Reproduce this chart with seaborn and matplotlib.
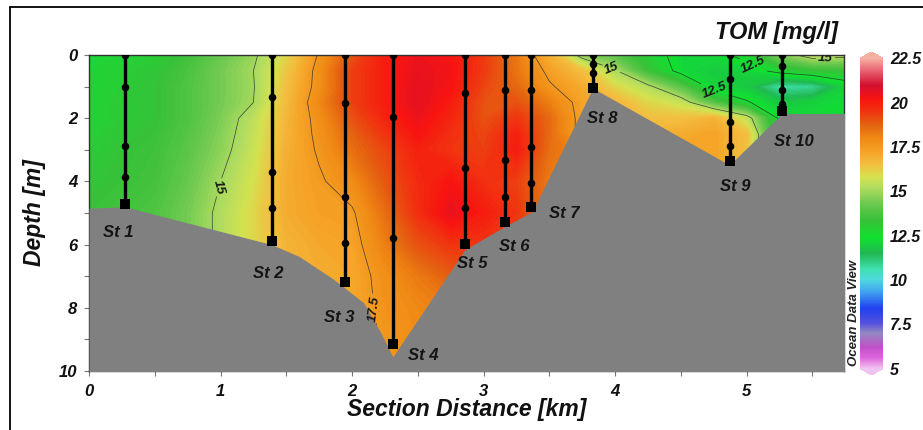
import numpy as np
import pandas as pd
import matplotlib
matplotlib.use("Agg")
import matplotlib.pyplot as plt
import seaborn as sns
from matplotlib.colors import LinearSegmentedColormap, Normalize
from matplotlib.cm import ScalarMappable
from matplotlib.lines import Line2D

# ---------------- data ----------------
station_names = ["St 1", "St 2", "St 3", "St 4", "St 5", "St 6", "St 7", "St 8", "St 9", "St 10"]
station_x = [0.27, 1.39, 1.95, 2.31, 2.86, 3.16, 3.36, 3.83, 4.87, 5.27]
sample_depths = [
    [0, 1.0, 2.88, 3.85, 4.7],
    [0, 1.34, 3.69, 4.85, 5.9],
    [0, 1.53, 4.48, 5.96, 7.19],
    [0, 1.95, 5.78, 9.15],
    [0, 1.21, 3.59, 4.85, 5.99],
    [0, 1.11, 3.32, 4.48, 5.3],
    [0, 1.11, 2.92, 4.04, 4.82],
    [0, 0.27, 0.56, 1.03],
    [0, 0.75, 2.13, 2.87, 3.37],
    [0, 0.35, 1.12, 1.55, 1.78],
]

# bottom topography
bathy_x = [0, 0.27, 1.39, 1.6, 1.86, 1.96, 2.09, 2.22, 2.31, 2.86, 3.16, 3.37, 3.83, 4.87, 5.27, 5.75]
bathy_depth = [4.85, 4.8, 6.0, 6.38, 7.1, 7.42, 7.85, 8.8, 9.55, 6.15, 5.43, 4.96, 1.05, 3.48, 1.85, 1.85]

# gridded TOM field [mg/l] read from the section
grid_x = [0, 0.25, 0.5, 0.75, 1.0, 1.25, 1.5, 1.75, 2.0, 2.25, 2.5, 2.75,
          3.0, 3.25, 3.5, 3.75, 4.0, 4.25, 4.5, 4.75, 5.0, 5.25, 5.5, 5.75]
grid_depth = [0, 0.5, 1, 1.5, 2, 2.5, 3, 4, 5, 6, 7, 8, 9, 10]
tom_0m = [12.7, 12.8, 13.0, 13.5, 14.2, 14.85, 16.0, 17.6, 19.0, 20.0, 20.4, 20.2,
          19.4, 18.3, 16.8, 14.6, 14.0, 12.9, 12.2, 12.2, 12.8, 14.5, 15.5, 15.3]
tom_05m = [12.8, 13.0, 13.2, 13.7, 14.4, 15.0, 16.3, 17.8, 19.3, 20.0, 20.5, 20.3,
           19.4, 18.4, 17.3, 16.5, 15.1, 13.4, 12.2, 11.9, 12.1, 12.8, 13.2, 13.3]
tom_1m = [12.8, 13.0, 13.3, 13.8, 14.4, 14.95, 16.5, 17.8, 19.3, 20.0, 20.6, 20.2,
          19.2, 18.6, 17.6, 17.0, 16.0, 15.2, 13.9, 12.1, 11.8, 10.6, 10.8, 12.0]
tom_15m = [12.8, 13.1, 13.3, 13.8, 14.4, 15.0, 16.6, 18.0, 19.3, 20.0, 20.6, 20.0,
           19.0, 19.0, 18.2, 17.2, 16.8, 16.0, 15.5, 13.8, 12.6, 11.8, 12.0, 12.3]
tom_2m = [12.8, 13.1, 13.3, 13.8, 14.5, 15.4, 16.7, 17.8, 19.0, 19.8, 20.4, 19.8,
          19.0, 19.5, 18.6, 17.2, 17.0, 16.5, 16.5, 16.8, 15.5, 12.3, 12.3, 12.3]
tom_25m = [12.9, 13.2, 13.4, 13.9, 14.6, 15.5, 16.8, 17.7, 18.7, 19.5, 20.2, 19.6,
           19.2, 19.9, 18.6, 17.2, 17.0, 16.8, 17.0, 17.2, 16.5, 12.3, 12.3, 12.3]
tom_3m = [13.0, 13.3, 13.5, 14.0, 14.7, 15.6, 16.9, 17.6, 18.5, 19.2, 19.9, 19.5,
          19.3, 20.0, 18.5, 18.0, 17.0, 17.0, 17.2, 17.2, 16.5, 12.3, 12.3, 12.3]
tom_4m = [13.2, 13.4, 13.6, 14.2, 15.0, 15.8, 17.0, 17.4, 17.9, 18.9, 19.7, 20.2,
          19.6, 19.3, 18.3, 18.0, 17.0, 17.0, 17.2, 17.2, 16.5, 12.3, 12.3, 12.3]
tom_5m = [13.4, 13.6, 13.8, 14.4, 15.2, 16.0, 17.0, 17.3, 17.4, 18.5, 19.6, 20.5,
          20.0, 19.5, 18.3, 18.0, 17.0, 17.0, 17.2, 17.2, 16.5, 12.3, 12.3, 12.3]
tom_6m = [13.4, 13.6, 13.8, 14.4, 15.2, 16.0, 16.8, 17.1, 17.2, 18.2, 19.0, 19.5,
          19.5, 19.3, 18.3, 18.0, 17.0, 17.0, 17.2, 17.2, 16.5, 12.3, 12.3, 12.3]
tom_7m = [13.4, 13.6, 13.8, 14.4, 15.2, 16.0, 16.8, 17.0, 17.1, 17.8, 18.3, 18.8,
          19.0, 19.0, 18.3, 18.0, 17.0, 17.0, 17.2, 17.2, 16.5, 12.3, 12.3, 12.3]
tom_8m = [13.4, 13.6, 13.8, 14.4, 15.2, 16.0, 16.8, 17.0, 17.1, 17.7, 18.0, 18.3,
          18.5, 18.5, 18.3, 18.0, 17.0, 17.0, 17.2, 17.2, 16.5, 12.3, 12.3, 12.3]
tom_9m = [13.4, 13.6, 13.8, 14.4, 15.2, 16.0, 16.8, 17.0, 17.1, 17.6, 17.9, 18.2,
          18.5, 18.5, 18.3, 18.0, 17.0, 17.0, 17.2, 17.2, 16.5, 12.3, 12.3, 12.3]
tom_10m = [13.4, 13.6, 13.8, 14.4, 15.2, 16.0, 16.8, 17.0, 17.1, 17.6, 17.9, 18.2,
           18.5, 18.5, 18.3, 18.0, 17.0, 17.0, 17.2, 17.2, 16.5, 12.3, 12.3, 12.3]

contour_levels = [12.5, 15, 17.5]
cbar_ticks = [5, 7.5, 10, 12.5, 15, 17.5, 20, 22.5]
x_ticks = [0, 1, 2, 3, 4, 5]
depth_ticks = [0, 2, 4, 6, 8, 10]

# ---------------- layout / style ----------------
label_pos = [(0.22, 5.63), (1.36, 6.9), (1.90, 8.3), (2.54, 9.5), (2.91, 6.6),
             (3.23, 6.05), (3.61, 5.03), (3.90, 2.0), (4.91, 4.17), (5.36, 2.74)]
clabel_pos = [(1.0, 4.2), (2.2, 8.0), (3.97, 0.47), (5.05, 0.33), (4.75, 1.2), (5.6, 0.2)]

sns.set_theme(style="ticks")
plt.rcParams["font.family"] = ["Liberation Sans", "DejaVu Sans"]

cmap_anchors = [(5.0, '#f0c4f0'), (5.6, '#dd66dd'), (6.2, '#c050c8'), (7.0, '#9488c0'),
                (7.6, '#5050e0'), (8.4, '#2040f0'), (9.3, '#40a0f0'), (10.0, '#50d8e0'),
                (10.6, '#40e0b0'), (11.5, '#20b850'), (12.4, '#10e030'), (13.4, '#38c038'),
                (14.3, '#6cc850'), (15.2, '#b0dc60'), (15.8, '#d4e250'), (16.5, '#f2c040'),
                (17.2, '#f5a428'), (18.0, '#f08a14'), (18.8, '#e46010'), (19.5, '#f03410'),
                (20.2, '#f81410'), (21.0, '#d41030'), (21.8, '#e86070'), (22.5, '#f4b0a0')]
vmin, vmax = 5.0, 22.5
cmap = LinearSegmentedColormap.from_list(
    "odv", [((v - vmin) / (vmax - vmin), c) for v, c in cmap_anchors], N=512)
cmap.set_under('#f0c4f0')
cmap.set_over('#f4b0a0')
norm = Normalize(vmin, vmax)

W, H = 923, 430
fig = plt.figure(figsize=(W / 100, H / 100), dpi=100)
ax = fig.add_axes([89 / W, 1 - 371 / H, 755 / W, 316 / H])

X, Y = np.meshgrid(grid_x, grid_depth)
Z = np.array([tom_0m, tom_05m, tom_1m, tom_15m, tom_2m, tom_25m, tom_3m, tom_4m,
              tom_5m, tom_6m, tom_7m, tom_8m, tom_9m, tom_10m])

fill_levels = np.linspace(vmin, vmax, 176)
cf = ax.contourf(X, Y, Z, levels=fill_levels, cmap=cmap, norm=norm, zorder=1)
cf.set_edgecolor('face')
cf.set_linewidth(0.3)

cs = ax.contour(X, Y, Z, levels=contour_levels, colors='#2b2b2b', linewidths=0.55,
                alpha=0.8, zorder=2)
lbls = ax.clabel(cs, fmt='%g', fontsize=9.5, inline=True, inline_spacing=2,
                 manual=clabel_pos)
for t in lbls:
    t.set_fontstyle('italic')
    t.set_fontweight('bold')
    t.set_color('#1a1a1a')

# bottom topography
ax.fill_between(bathy_x, bathy_depth, 10.5, color='#808080', lw=0, zorder=3)

# station casts
bottoms = [d[-1] for d in sample_depths]
ax.vlines(station_x, 0, bottoms, color='black', lw=2.4, zorder=4)
samples = pd.DataFrame(
    [(sx, d) for sx, ds in zip(station_x, sample_depths) for d in ds[:-1]],
    columns=['dist', 'depth'])
bottom_df = pd.DataFrame({'dist': station_x, 'depth': bottoms})
sns.scatterplot(data=samples, x='dist', y='depth', ax=ax, color='black', s=30,
                marker='o', linewidth=0, zorder=5, legend=False)
sns.scatterplot(data=bottom_df, x='dist', y='depth', ax=ax, color='black', s=55,
                marker='s', linewidth=0, zorder=5, legend=False)

for name, (lx, ly) in zip(station_names, label_pos):
    ax.text(lx, ly, name, ha='center', va='center', fontsize=12, fontweight='bold',
            fontstyle='italic', color='#141414', zorder=6)

ax.set_xlim(0, 5.74)
ax.set_ylim(10, 0)
ax.set_facecolor('#808080')
ax.set_xticks(x_ticks)
ax.set_xticks(np.arange(0.5, 5.6, 1.0), minor=True)
ax.set_yticks(depth_ticks)
ax.set_yticks([1, 3, 5, 7, 9], minor=True)
ax.set_xticklabels([str(v) for v in x_ticks])
ax.set_yticklabels([str(v) for v in depth_ticks])
ax.tick_params(which='both', direction='out', length=3.5, width=0.8, color='#777777',
               labelsize=12, pad=5)
ax.tick_params(axis='x', pad=6)
for lab in ax.get_xticklabels() + ax.get_yticklabels():
    lab.set_fontweight('bold')
    lab.set_fontstyle('italic')
    lab.set_color('#111111')
for sp in ax.spines.values():
    sp.set_color('#333333')
    sp.set_linewidth(1.0)
ax.set_xlabel('Section Distance [km]', fontsize=16.5, fontweight='bold',
              fontstyle='italic', color='#111111')
ax.set_ylabel('Depth [m]', fontsize=16.5, fontweight='bold', fontstyle='italic',
              color='#111111')
ax.xaxis.set_label_coords(0.5, (371 - 398) / 316)
ax.yaxis.set_label_coords((46 - 89) / 755, 0.5)

# colorbar
cax = fig.add_axes([860 / W, 1 - 375 / H, 23 / W, 323 / H])
sm = ScalarMappable(norm=norm, cmap=cmap)
cb = fig.colorbar(sm, cax=cax, extend='both', extendfrac=0.02, ticks=cbar_ticks)
cb.outline.set_visible(False)
cb.ax.tick_params(length=0, labelsize=11.5, pad=5)
cb.ax.set_yticklabels(['%g' % v for v in cbar_ticks])
for lab in cb.ax.get_yticklabels():
    lab.set_fontweight('bold')
    lab.set_fontstyle('italic')
    lab.set_color('#111111')

fig.text(854 / W, 1 - 313 / H, 'Ocean Data View', rotation=90, ha='center', va='center',
         fontsize=9.5, fontweight='bold', fontstyle='italic', color='#222222')
fig.text(838 / W, 1 - 32 / H, 'TOM [mg/l]', ha='right', va='center', fontsize=17,
         fontweight='bold', fontstyle='italic', color='#111111')

# outer frame (top and left edges)
fig.add_artist(Line2D([10 / W, 10 / W], [0, 1 - 6.5 / H], transform=fig.transFigure,
                      color='black', lw=1.3))
fig.add_artist(Line2D([10 / W, 1], [1 - 6.5 / H, 1 - 6.5 / H], transform=fig.transFigure,
                      color='black', lw=1.3))

fig.savefig('out.png', dpi=100)
